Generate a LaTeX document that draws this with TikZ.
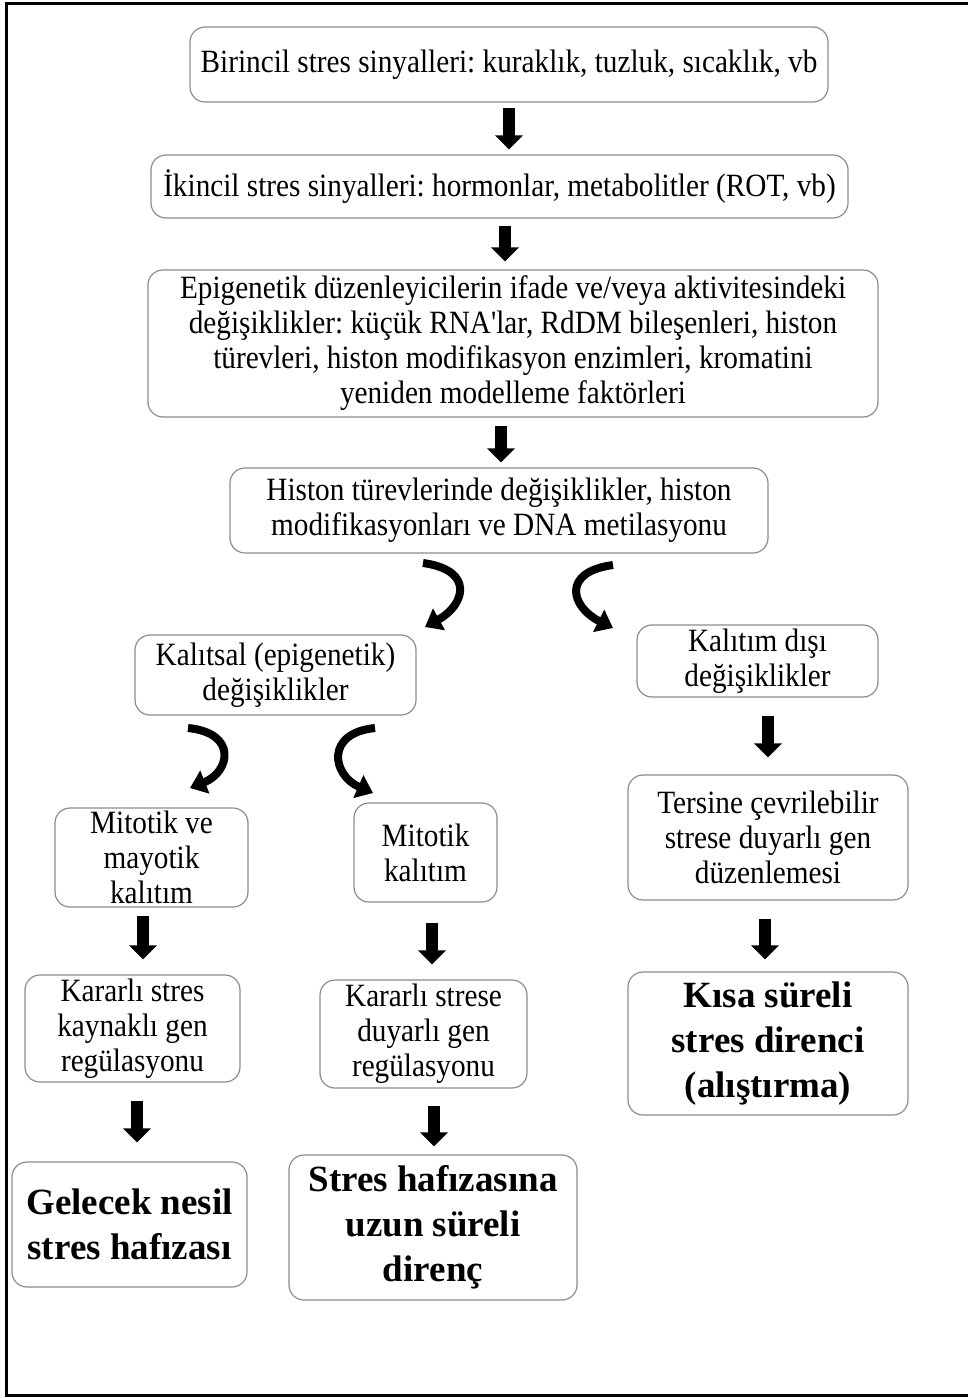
\documentclass[tikz,border=0pt]{standalone}
\usepackage{fontspec}
\setmainfont{Liberation Serif}[Ligatures=TeXOff]
\newfontfamily\regf{Liberation Serif}[Ligatures=TeXOff, FakeStretch=0.9]
\usetikzlibrary{arrows.meta}
\frenchspacing
\begin{document}
\begin{tikzpicture}[x=1pt,y=-1pt,
  box/.style={draw=black!45, line width=1.2pt, rounded corners=15pt, align=center, inner sep=0pt,
    font=\regf\fontsize{32.5}{35}\selectfont},
  bbox/.style={box, font=\normalfont\fontsize{37}{45}\selectfont\bfseries},
  blk/.style={line width=12pt, -{Triangle[width=27pt,length=14pt]}},
  crv/.style={line width=8pt, -{Triangle[width=24pt,length=16pt]}}]
\useasboundingbox (0,0) rectangle (967,1398);
\draw[line width=3pt] (970,3) -- (6,3) -- (6,1395) -- (970,1395);

\node[box, minimum width=638, minimum height=75] (b1) at (509,64.5) {Birincil stres sinyalleri: kuraklık, tuzluk, sıcaklık, vb};
\node[box, minimum width=697, minimum height=63] (b2) at (499.5,186.5) {İkincil stres sinyalleri: hormonlar, metabolitler (ROT, vb)};
\node[box, minimum width=730, minimum height=147] (b3) at (513,343.5) {Epigenetik düzenleyicilerin ifade ve/veya aktivitesindeki\\ değişiklikler: küçük RNA'lar, RdDM bileşenleri, histon\\ türevleri, histon modifikasyon enzimleri, kromatini\\ yeniden modelleme faktörleri};
\node[box, minimum width=538, minimum height=85] (b4) at (499,510.5) {Histon türevlerinde değişiklikler, histon\\ modifikasyonları ve DNA metilasyonu};
\node[box, minimum width=281, minimum height=80] (b5) at (275.5,675) {Kalıtsal (epigenetik)\\ değişiklikler};
\node[box, minimum width=241, minimum height=72] (b6) at (757.5,661) {Kalıtım dışı\\ değişiklikler};
\node[box, minimum width=193, minimum height=99] (b7) at (151.5,857.5) {Mitotik ve\\ mayotik\\ kalıtım};
\node[box, minimum width=143, minimum height=99] (b8) at (425.5,852.5) {Mitotik\\ kalıtım};
\node[box, minimum width=280, minimum height=125] (b9) at (768,837.5) {Tersine çevrilebilir\\ strese duyarlı gen\\ düzenlemesi};
\node[box, minimum width=215, minimum height=107] (b10) at (132.5,1028.5) {Kararlı stres\\ kaynaklı gen\\ regülasyonu};
\node[box, minimum width=207, minimum height=108] (b11) at (423.5,1034) {Kararlı strese\\ duyarlı gen\\ regülasyonu};
\node[bbox, minimum width=280, minimum height=143] (b12) at (768,1043.5) {Kısa süreli\\ stres direnci\\ (alıştırma)};
\node[bbox, minimum width=235, minimum height=125] (b13) at (129.5,1224.5) {Gelecek nesil\\ stres hafızası};
\node[bbox, minimum width=288, minimum height=145] (b14) at (433,1227.5) {Stres hafızasına\\ uzun süreli\\ direnç};

% straight arrows
\draw[blk, shorten <=5pt, shorten >=5pt] (b1.south) -- (b2.north -| b1.south);
\draw[blk, shorten <=7pt, shorten >=8pt] ([xshift=5.5pt]b2.south) -- ([xshift=5.5pt]b2.south |- b3.north);
\draw[blk, shorten <=8pt, shorten >=5pt] ([xshift=2pt]b4.north |- b3.south) -- ([xshift=2pt]b4.north);
\draw[blk, shorten <=18pt, shorten >=17pt] ([xshift=10.5pt]b6.south) -- ([xshift=10.5pt]b6.south |- b9.north);
\draw[blk, shorten <=8pt, shorten >=15pt] ([xshift=-8.5pt]b7.south) -- ([xshift=-8.5pt]b7.south |- b10.north);
\draw[blk, shorten <=20pt, shorten >=15pt] ([xshift=6.5pt]b8.south) -- ([xshift=6.5pt]b8.south |- b11.north);
\draw[blk, shorten <=18pt, shorten >=12pt] ([xshift=-3pt]b9.south) -- ([xshift=-3pt]b9.south |- b12.north);
\draw[blk, shorten <=18pt, shorten >=19pt] ([xshift=4.5pt]b10.south) -- ([xshift=4.5pt]b10.south |- b13.north);
\draw[blk, shorten <=17pt, shorten >=8pt] ([xshift=10.5pt]b11.south) -- ([xshift=10.5pt]b11.south |- b14.north);

% curved arrows
\coordinate (c1s) at (423,563); \coordinate (c1e) at (425,627);
\coordinate (c2s) at (613,565); \coordinate (c2e) at (613,628);
\coordinate (c3s) at (188,728); \coordinate (c3e) at (190,788);
\coordinate (c4s) at (375,728); \coordinate (c4e) at (373,793);
\draw[crv] (c1s) .. controls (475,570) and (465,605) .. (c1e);
\draw[crv] (c2s) .. controls (561,572) and (571,607) .. (c2e);
\draw[crv] (c3s) .. controls (238,733) and (230,772) .. (c3e);
\draw[crv] (c4s) .. controls (325,733) and (332,775) .. (c4e);
\end{tikzpicture}
\end{document}
